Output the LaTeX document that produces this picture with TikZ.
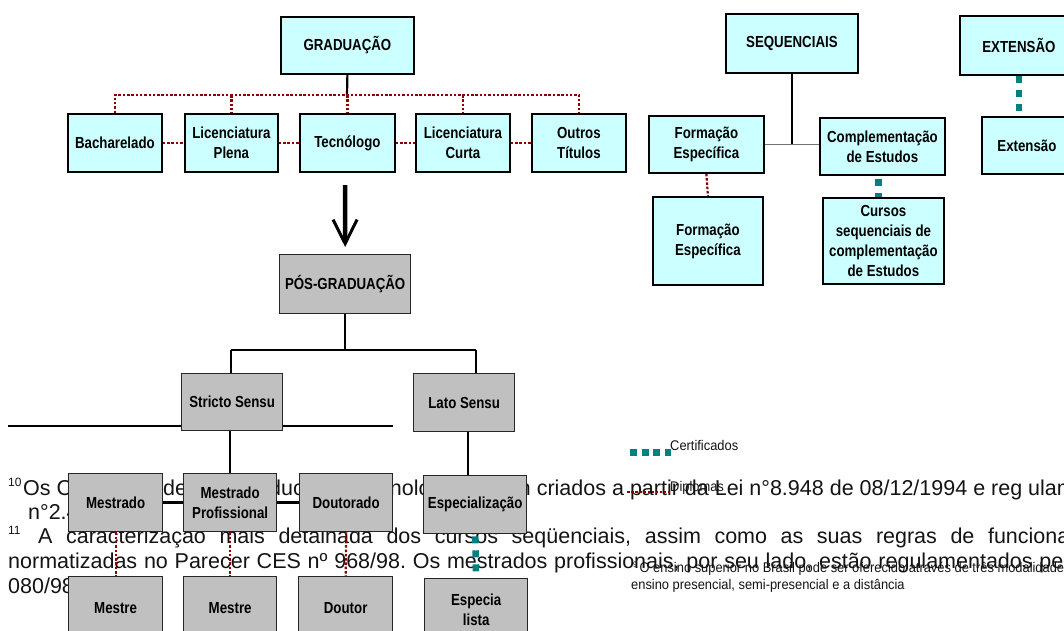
\documentclass[tikz,border=0pt]{standalone}
\usepackage{fontspec}
\setmainfont{Liberation Sans}
\newfontfamily\bxf{Liberation Sans}[FakeStretch=0.83]
\newfontfamily\smf{Liberation Sans}[FakeStretch=0.92]
\usetikzlibrary{arrows.meta}
\definecolor{cyanf}{HTML}{CCFFFF}
\definecolor{grayf}{HTML}{C0C0C0}
\definecolor{dred}{HTML}{8B0000}
\definecolor{tealc}{HTML}{008080}
\definecolor{txt}{HTML}{141414}
\pgfdeclarelayer{bg}
\pgfdeclarelayer{lines}
\pgfsetlayers{bg,lines,main}
\frenchspacing
\begin{document}
\begin{tikzpicture}[x=1pt,y=-1pt,
  bx/.style={draw=black, line width=1.8pt, inner sep=1pt, align=center, anchor=north west,
    font=\bxf\bfseries\fontsize{16}{20}\selectfont, text=black},
  cb/.style={bx, fill=cyanf},
  gb/.style={bx, fill=grayf, draw=black!85, line width=1.3pt},
  mt/.style={anchor=base west, inner sep=0pt, font=\fontsize{21.5}{24.4}\selectfont, text=txt},
  supr/.style={anchor=base west, inner sep=0pt, font=\fontsize{12}{12}\selectfont, text=txt},
  sm/.style={anchor=base west, inner sep=0pt, font=\smf\fontsize{14}{16}\selectfont, text=txt},
  blk/.style={draw=black, line width=2.2pt},
  reddot/.style={draw=dred, line width=2.2pt, dash pattern=on 2.5pt off 1.8pt},
  tealdash/.style={draw=tealc, line width=6.5pt, dash pattern=on 7pt off 7pt}]
\useasboundingbox (0,0) rectangle (1064,630);

% ---------------- background footnote text ----------------
\begin{pgfonlayer}{bg}
\fill[white] (0,0) rectangle (1064,630);
\node[supr] (s10) at (8,486) {10};
\node[mt] (l1a) at (23,495) {Os Centros};
\node[mt] (l1b) at (73.4,495) {Federais de};
\node[mt] (l1c) at (254.6,495) {Educação Tecnológica foram criados a partir da Lei n°8.948 de 08/12/1994 e reg ulamentados pelo Decreto};
\node[mt] (l2) at (28,519) {n°2.406/97.};
\node[supr] (s11) at (8,534) {11};
\node[mt] (l3) at (38,543) {\makebox[1097pt][s]{A caracterização mais detalhada dos cursos seqüenciais, assim como as suas regras de funcionamento,}};
\node[mt] (l4) at (8,568) {\makebox[1072pt][s]{normatizadas no Parecer CES nº 968/98. Os mestrados profissionais, por seu lado, estão regulamentados pela}};
\node[mt] (l5) at (8,593) {080/98.};
\end{pgfonlayer}

% ---------------- GRADUAÇÃO ----------------
\node[cb, minimum width=133pt, minimum height=57pt] (grad) at (280,16) {GRADUAÇÃO};
\node[cb, minimum width=94pt, minimum height=58pt] (bach) at (67,113) {Bacharelado};
\node[cb, minimum width=93pt, minimum height=58pt] (licp) at (184,113) {Licenciatura\\Plena};
\node[cb, minimum width=95pt, minimum height=58pt] (tec) at (299,113) {Tecnólogo};
\node[cb, minimum width=94pt, minimum height=58pt] (licc) at (415,113) {Licenciatura\\Curta};
\node[cb, minimum width=94pt, minimum height=58pt] (outr) at (531,113) {Outros\\Títulos};

% ---------------- SEQUENCIAIS / EXTENSÃO ----------------
\node[cb, minimum width=132pt, minimum height=59pt] (seq) at (725,13) {SEQUENCIAIS};
\node[cb, minimum width=118pt, minimum height=59pt] (ext) at (959,15) {EXTENSÃO};
\node[cb, minimum width=115pt, minimum height=57pt] (fe) at (648,115) {Formação\\Específica};
\node[cb, minimum width=125pt, minimum height=57pt] (ce) at (819,117) {Complementação\\de Estudos};
\node[cb, minimum width=90pt, minimum height=57pt] (extb) at (981,116) {Extensão};
\node[cb, minimum width=110pt, minimum height=88pt] (fe2) at (652,196) {Formação\\Específica};
\node[cb, minimum width=121pt, minimum height=86pt] (cur) at (822,197) {Cursos\\sequenciais de\\complementação\\de Estudos};

% ---------------- PÓS-GRADUAÇÃO ----------------
\node[gb, minimum width=131pt, minimum height=59pt] (pos) at (279,254) {PÓS-GRADUAÇÃO};
\node[gb, minimum width=101pt, minimum height=57pt] (stricto) at (181,373) {Stricto Sensu};
\node[gb, minimum width=101pt, minimum height=58pt] (lato) at (413,373) {Lato Sensu};
\node[gb, minimum width=94pt, minimum height=58pt] (mestrado) at (68,473) {Mestrado};
\node[gb, minimum width=93pt, minimum height=58pt] (mprof) at (183,473) {Mestrado\\Profissional};
\node[gb, minimum width=93pt, minimum height=58pt] (dout) at (299,473) {Doutorado};
\node[gb, minimum width=103pt, minimum height=58pt] (espec) at (423,475) {Especialização};
\node[gb, minimum width=94pt, minimum height=62pt] (mestre1) at (68,576) {Mestre};
\node[gb, minimum width=93pt, minimum height=62pt] (mestre2) at (183,576) {Mestre};
\node[gb, minimum width=94pt, minimum height=62pt] (doutor) at (298,576) {Doutor};
\node[gb, minimum width=103pt, minimum height=62pt] (esplis) at (424,578) {Especia\\lista};

% ---------------- connectors ----------------
\coordinate (gbus) at (347,95);
\coordinate (jl) at (231,350);
\coordinate (jr) at (476,350);
\coordinate (sepL) at (8,426);
\coordinate (sepR) at (393,426);
\coordinate (arrtop) at (345,185);
\begin{pgfonlayer}{lines}
\draw[blk] (grad.south) -- (gbus);
\draw[reddot] (bach.north) -- (bach.north |- gbus) -- (outr.north |- gbus) -- (outr.north);
\draw[reddot] (licp.north |- gbus) -- (licp.north);
\draw[reddot] (tec.north |- gbus) -- (tec.north);
\draw[reddot] (licc.north |- gbus) -- (licc.north);
\draw[reddot] (bach.east) -- (licp.west);
\draw[reddot] (licp.east) -- (tec.west);
\draw[reddot] (tec.east) -- (licc.west);
\draw[reddot] (licc.east) -- (outr.west);
\draw[blk] (seq.south) -- (seq.south |- fe.east);
\draw[draw=black!55, line width=1.3pt] (fe.east) -- (fe.east -| ce.west);
\draw[reddot] (fe.south) -- (fe2.north);
\draw[tealdash, dash phase=-3pt] ([xshift=-4pt]ce.south) -- ([xshift=-4pt]ce.south |- cur.north);
\draw[tealdash] (ext.south) -- (ext.south |- extb.north);
\draw[blk] (pos.south) -- (pos.south |- jl);
\draw[blk] (jl) -- (jr);
\draw[blk] (jl) -- (jl |- stricto.north);
\draw[blk] (jr) -- (jr |- lato.north);
\draw[blk] (sepL) -- (sepR);
\draw[blk] (mprof.north |- stricto.south) -- (mprof.north);
\draw[blk] ([xshift=3.5pt]lato.south) -- ([xshift=3.5pt]lato.south |- espec.north);
\draw[draw=black, line width=3.5pt] (mestrado.east) -- (dout.west);
\draw[reddot] (mestrado.south) -- (mestre1.north);
\draw[reddot] (mprof.south) -- (mestre2.north);
\draw[reddot] (dout.south) -- (doutor.north);
\draw[tealdash, dash phase=-2pt] (espec.south) -- (esplis.north);
\end{pgfonlayer}
\draw[draw=black, line width=4.5pt, shorten >=7pt,
  -{Straight Barb[length=24pt,width=24pt,line width=3pt]}] (arrtop) -- (pos.north);

% ---------------- legend ----------------
\coordinate (lc1) at (630,452);
\coordinate (lc2) at (671,452);
\coordinate (ld1) at (627,492);
\coordinate (ld2) at (670,492);
\draw[draw=tealc, line width=7pt, dash pattern=on 7pt off 4.6pt] (lc1) -- (lc2);
\node[sm] (lcert) at (670,450) {Certificados};
\draw[draw=dred, line width=2pt, dash pattern=on 2.5pt off 1.6pt] (ld1) -- (ld2);
\node[sm] (ldip) at (670,491) {Diplomas};

% ---------------- footnote 9 ----------------
\node[sm] (fn9a) at (633,572) {\raisebox{5pt}{\fontsize{8}{8}\selectfont 9}\,O ensino superior no Brasil pode ser oferecido através de três modalidades:};
\node[sm] (fn9b) at (631,589) {ensino presencial, semi-presencial e a distância};
\end{tikzpicture}
\end{document}
